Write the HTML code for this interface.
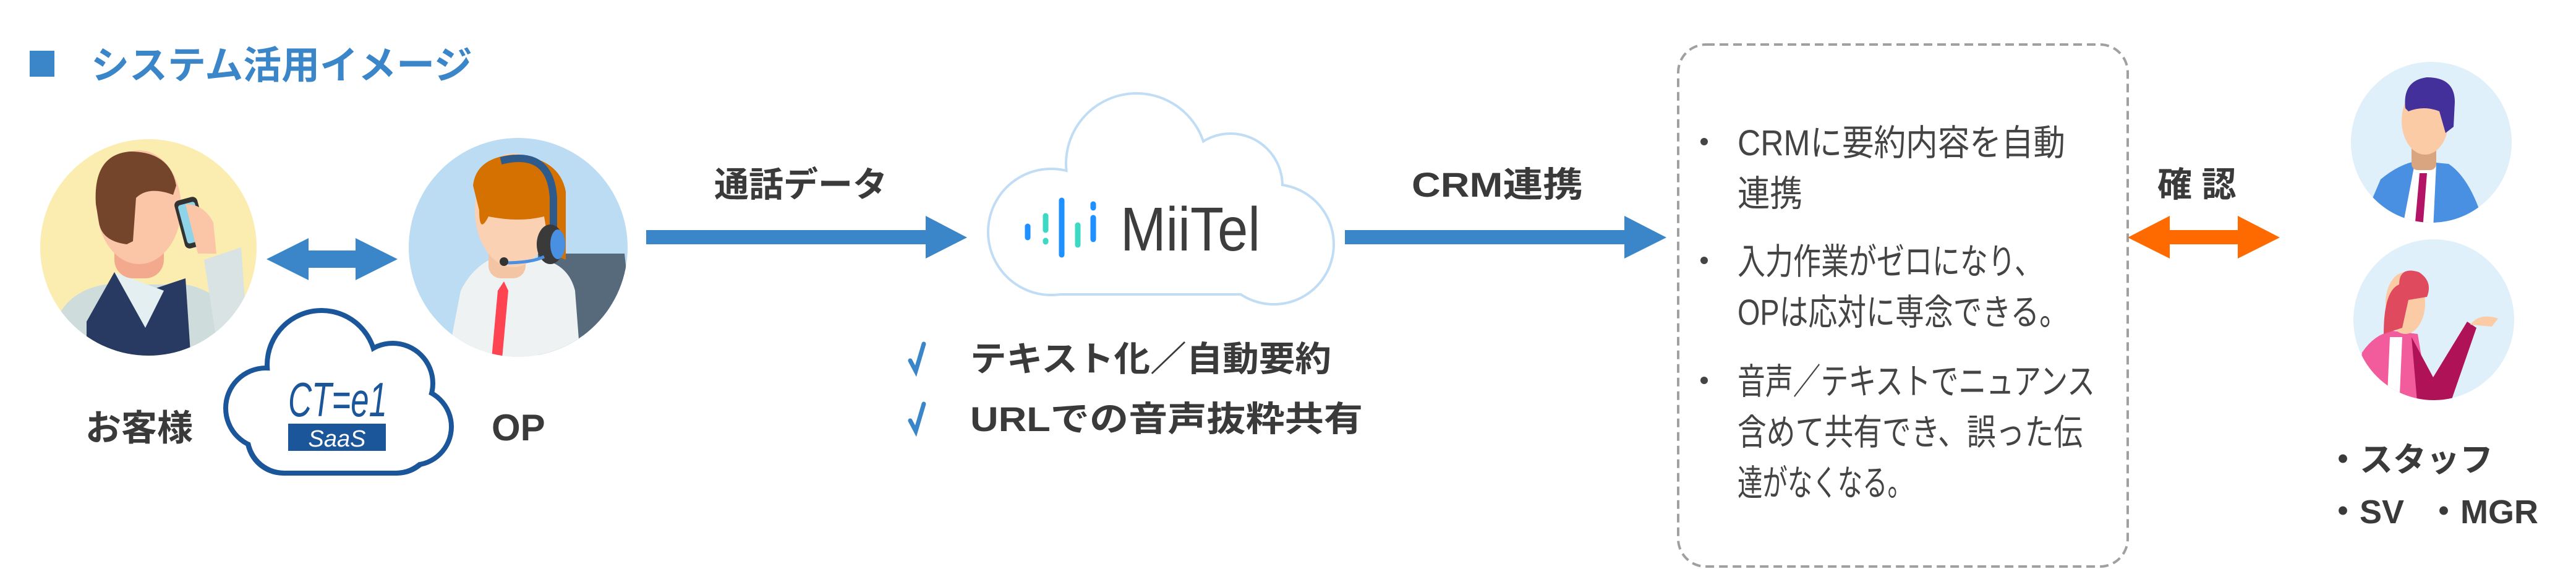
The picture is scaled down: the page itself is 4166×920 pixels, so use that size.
<!DOCTYPE html>
<html><head><meta charset="utf-8"><style>
html,body{margin:0;padding:0;background:#fff;}
svg{display:block}
text{font-family:"Liberation Sans","Noto Sans CJK JP",sans-serif;}
</style></head><body>
<svg width="4166" height="920" viewBox="0 0 4166 920" xmlns="http://www.w3.org/2000/svg">
<defs>
<clipPath id="c1"><circle cx="240" cy="400" r="175"/></clipPath>
<clipPath id="c2"><circle cx="838" cy="400" r="177"/></clipPath>
<clipPath id="c3"><ellipse cx="3932" cy="230" rx="130" ry="130"/></clipPath>
<clipPath id="c4"><ellipse cx="3936" cy="517" rx="130" ry="130"/></clipPath>
</defs>

<!-- Title -->
<rect x="48" y="82" width="40" height="42" fill="#3a86c8"/>
<text x="147" y="127" font-size="62" font-weight="bold" fill="#3a86c8">システム活用イメージ</text>

<!-- Customer -->
<circle cx="240" cy="400" r="175" fill="#fbecb0"/>
<g clip-path="url(#c1)">
  <path d="M90 520 Q110 470 170 460 L300 460 Q360 470 400 540 L420 600 L80 600 Z" fill="#cfdcdc"/>
  <path d="M140 520 L185 440 L240 470 L300 450 L310 600 L140 600 Z" fill="#283a62"/>
  <path d="M185 440 L235 530 L265 470 Z" fill="#e3eff0"/>
  <path d="M330 420 L390 400 L400 540 L350 550 Z" fill="#d9e3e3"/>
  <rect x="185" y="330" width="80" height="120" rx="30" fill="#f3a98e"/>
  <ellipse cx="225" cy="335" rx="68" ry="92" fill="#fbc6a8"/>
  <path d="M155 330 Q150 250 210 245 Q275 245 285 300 L280 315 Q240 300 220 320 L215 390 L205 395 Q165 390 160 360 Z" fill="#74452b"/>
  <rect x="290" y="320" width="38" height="80" rx="8" fill="#333" transform="rotate(-15 309 360)"/>
  <rect x="295" y="328" width="28" height="64" rx="4" fill="#8fd3e8" transform="rotate(-15 309 360)"/>
  <path d="M300 330 Q330 330 345 360 L350 410 L320 410 Z" fill="#fbc6a8"/>
</g>

<!-- double arrow blue -->
<polygon points="431,419 499,385 499,405 575,405 575,385 643,419 575,453 575,433 499,433 499,453" fill="#3a86c8"/>

<!-- OP -->
<circle cx="838" cy="400" r="177" fill="#bcdcf3"/>
<g clip-path="url(#c2)">
  <path d="M870 410 L1010 410 L1030 600 L870 600 Z" fill="#566a7c"/>
  <path d="M720 600 L745 470 Q770 420 820 410 L880 420 Q920 430 930 470 L940 600 Z" fill="#eff2f2"/>
  <path d="M805 470 L815 455 L822 470 L812 580 L795 580 Z" fill="#fd4450"/>
  <rect x="790" y="370" width="60" height="80" rx="20" fill="#f3c5a5"/>
  <ellipse cx="830" cy="340" rx="62" ry="92" fill="#fbd1b4"/>
  <path d="M765 300 Q770 255 830 250 Q905 255 915 310 L915 420 L890 410 L880 350 Q840 360 790 350 Q775 380 775 340 Z" fill="#d47100"/>
  <path d="M810 260 Q890 240 895 320 L895 390" fill="none" stroke="#2f5a8c" stroke-width="12"/>
  <ellipse cx="890" cy="395" rx="22" ry="32" fill="#3a3a3a"/>
  <ellipse cx="902" cy="395" rx="12" ry="24" fill="#4a90e2"/>
  <path d="M880 415 Q860 425 815 425" fill="none" stroke="#4a90e2" stroke-width="5"/>
  <circle cx="815" cy="423" r="7" fill="#333"/>
</g>

<!-- CT-e1 cloud -->
<g fill="#1a5699">
  <rect x="396" y="616" width="308" height="153" rx="62"/>
  <circle cx="430" cy="660" r="69"/><circle cx="520" cy="590" r="92"/>
  <circle cx="635" cy="620" r="69"/><circle cx="668" cy="690" r="66"/>
</g>
<g fill="#fff">
  <rect x="404" y="624" width="292" height="137" rx="56"/>
  <circle cx="430" cy="660" r="61"/><circle cx="520" cy="590" r="84"/>
  <circle cx="635" cy="620" r="61"/><circle cx="668" cy="690" r="58"/>
</g>
<text x="466" y="673" font-size="78" fill="#1a5699" textLength="160" lengthAdjust="spacingAndGlyphs" font-style="italic">CT=e1</text>
<rect x="466" y="685" width="158" height="44" fill="#1a5699"/>
<text x="545" y="722" font-size="38" fill="#fff" text-anchor="middle" font-style="italic">SaaS</text>

<text x="138" y="712" font-size="58" font-weight="bold" fill="#3a3a3a">お客様</text>
<text x="795" y="712" font-size="60" font-weight="bold" fill="#3a3a3a">OP</text>

<!-- arrow 1 -->
<text x="1155" y="318" font-size="56" font-weight="bold" fill="#3a3a3a">通話データ</text>
<polygon points="1045,372 1497,372 1497,349 1564,384 1497,418 1497,395 1045,395" fill="#3a86c8"/>

<!-- MiiTel cloud -->
<g fill="#c0ddf5">
  <rect x="1636" y="326" width="488" height="152" rx="62"/>
  <circle cx="1700" cy="375" r="104"/><circle cx="1838" cy="265" r="116"/>
  <circle cx="1990" cy="300" r="86"/><circle cx="2060" cy="395" r="99"/>
</g>
<g fill="#fff">
  <rect x="1640" y="330" width="480" height="144" rx="58"/>
  <circle cx="1700" cy="375" r="100"/><circle cx="1838" cy="265" r="112"/>
  <circle cx="1990" cy="300" r="82"/><circle cx="2060" cy="395" r="95"/>
</g>
<g stroke-linecap="round" stroke-width="9">
  <line x1="1662" y1="366" x2="1662" y2="384" stroke="#1e90ff"/>
  <line x1="1691" y1="349" x2="1691" y2="372" stroke="#3dd9c5"/>
  <line x1="1691" y1="389" x2="1691" y2="391" stroke="#3dd9c5"/>
  <line x1="1717" y1="324" x2="1717" y2="412" stroke="#1e90ff"/>
  <line x1="1743" y1="364" x2="1743" y2="396" stroke="#3dd9c5"/>
  <line x1="1768" y1="330" x2="1768" y2="336" stroke="#1e90ff"/>
  <line x1="1768" y1="352" x2="1768" y2="387" stroke="#1e90ff"/>
</g>
<text x="1812" y="405" font-size="100" fill="#3d3d3d" textLength="226" lengthAdjust="spacingAndGlyphs">MiiTel</text>

<!-- checklist -->
<path d="M1472 583 L1481 600 L1494 556" fill="none" stroke="#3a86c8" stroke-width="7" stroke-linecap="round"/>
<text x="1569" y="600" font-size="56" font-weight="bold" fill="#3a3a3a" textLength="584" lengthAdjust="spacingAndGlyphs">テキスト化／自動要約</text>
<path d="M1472 680 L1481 697 L1494 653" fill="none" stroke="#3a86c8" stroke-width="7" stroke-linecap="round"/>
<text x="1569" y="697" font-size="56" font-weight="bold" fill="#3a3a3a" textLength="635" lengthAdjust="spacingAndGlyphs">URLでの音声抜粋共有</text>

<!-- arrow 2 -->
<text x="2283" y="318" font-size="56" font-weight="bold" fill="#3a3a3a" textLength="277" lengthAdjust="spacingAndGlyphs">CRM連携</text>
<polygon points="2175,372 2627,372 2627,349 2695,384 2627,418 2627,395 2175,395" fill="#3a86c8"/>

<!-- dashed box -->
<rect x="2714" y="72" width="727" height="844" rx="45" fill="none" stroke="#a0a0a0" stroke-width="4" stroke-dasharray="14 8"/>
<g font-size="58" fill="#444" lengthAdjust="spacingAndGlyphs">
  <circle cx="2756" cy="229" r="6" fill="#444"/>
  <text x="2810" y="251" textLength="530" lengthAdjust="spacingAndGlyphs">CRMに要約内容を自動</text>
  <text x="2810" y="333" textLength="105" lengthAdjust="spacingAndGlyphs">連携</text>
  <circle cx="2756" cy="421" r="6" fill="#444"/>
  <text x="2810" y="443" textLength="493" lengthAdjust="spacingAndGlyphs">入力作業がゼロになり、</text>
  <text x="2810" y="525" textLength="535" lengthAdjust="spacingAndGlyphs">OPは応対に専念できる。</text>
  <circle cx="2756" cy="615" r="6" fill="#444"/>
  <text x="2810" y="637" textLength="578" lengthAdjust="spacingAndGlyphs">音声／テキストでニュアンス</text>
  <text x="2810" y="719" textLength="558" lengthAdjust="spacingAndGlyphs">含めて共有でき、誤った伝</text>
  <text x="2810" y="801" textLength="283" lengthAdjust="spacingAndGlyphs">達がなくなる。</text>
</g>

<!-- confirm arrow -->
<text x="3489" y="318" font-size="56" font-weight="bold" fill="#3a3a3a">確 認</text>
<polygon points="3441,384 3509,349 3509,372 3619,372 3619,349 3687,384 3619,418 3619,395 3509,395 3509,418" fill="#ff6a00"/>

<!-- manager -->
<circle cx="3932" cy="230" r="130" fill="#e0f0fa"/>
<g clip-path="url(#c3)">
  <path d="M3820 360 L3850 290 Q3880 265 3910 260 L3960 265 Q3990 285 4010 340 L4020 370 L3820 370 Z" fill="#4a90e2"/>
  <path d="M3905 265 L3940 265 L3935 370 L3885 370 Z" fill="#fff"/>
  <path d="M3913 280 L3925 280 L3918 370 L3905 370 Z" fill="#b31466"/>
  <rect x="3900" y="220" width="40" height="55" rx="10" fill="#d9a580"/>
  <ellipse cx="3922" cy="195" rx="38" ry="55" fill="#fbcba6"/>
  <path d="M3890 175 Q3885 130 3925 125 Q3970 125 3970 165 L3968 205 L3955 215 L3945 180 Q3920 170 3895 180 Z" fill="#43309a"/>
</g>

<!-- woman -->
<circle cx="3936" cy="517" r="130" fill="#e0f0fa"/>
<g clip-path="url(#c4)">
  <path d="M3810 660 L3820 570 Q3840 540 3870 535 L3910 540 L3930 660 Z" fill="#f25c9c"/>
  <path d="M3900 545 L3935 610 L3990 520 L4005 530 L3960 660 L3910 660 Z" fill="#b01257"/>
  <path d="M3865 545 L3885 545 L3880 660 L3860 660 Z" fill="#fff"/>
  <ellipse cx="3890" cy="490" rx="32" ry="50" fill="#fbcba6"/>
  <path d="M3880 460 Q3880 430 3912 440 Q3935 455 3925 480 L3895 485 L3885 530 L3855 540 Q3855 470 3880 460 Z" fill="#e04a5e"/>
  <path d="M3995 525 Q4010 505 4040 515 L4030 528 Z" fill="#fbcba6"/>
</g>

<!-- roles -->
<g font-size="54" font-weight="bold" fill="#3a3a3a">
  <text x="3762" y="762">・スタッフ</text>
  <text x="3762" y="846">・SV</text>
  <text x="3925" y="846">・MGR</text>
</g>
</svg>
</body></html>
